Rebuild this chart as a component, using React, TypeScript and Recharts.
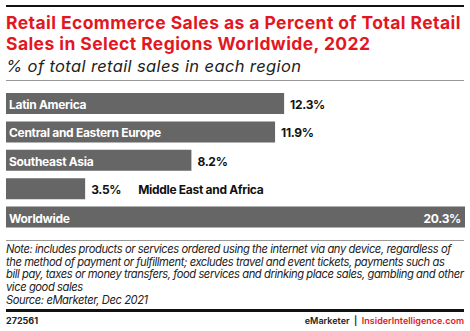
import { BarChart, Bar, XAxis, YAxis, Rectangle } from 'recharts';

const regions = ['Latin America', 'Central and Eastern Europe', 'Southeast Asia', 'Middle East and Africa', 'Worldwide'];
const shares = [12.3, 11.9, 8.2, 3.5, 20.3];

const data = regions.map((name, i) => ({ name, value: shares[i] }));
const maxValue = Math.max(...shares);

const noteLines = [
  'Note: includes products or services ordered using the internet via any device, regardless of',
  'the method of payment or fulfillment; excludes travel and event tickets, payments such as',
  'bill pay, taxes or money transfers, food services and drinking place sales, gambling and other',
  'vice good sales',
  'Source: eMarketer, Dec 2021',
];

const FONT = 'Inter, "Noto Sans", sans-serif';

// bar plus its labels: name inside (or after the value when the bar is short), value outside
function LabeledBar(props: any) {
  const { x, y, width, height, index } = props;
  const name = regions[index];
  const value = shares[index];
  const cy = y + height / 2 + 1;
  const pct = `${value.toFixed(1)}%`;
  const common = { fontFamily: FONT, fontSize: 12, fontWeight: 700, dominantBaseline: 'central' as const, letterSpacing: -0.3 };
  let labels;
  if (value === maxValue) {
    labels = (
      <>
        <text x={x + 3} y={cy} fill="#fff" {...common}>{name}</text>
        <text x={x + width - 4} y={cy} fill="#fff" textAnchor="end" {...common}>{pct}</text>
      </>
    );
  } else if (width < 120) {
    labels = (
      <>
        <text x={x + width + 6} y={cy} fill="#111" {...common}>{pct}</text>
        <text x={x + width + 53} y={cy} fill="#111" {...common}>{name}</text>
      </>
    );
  } else {
    labels = (
      <>
        <text x={x + 3} y={cy} fill="#fff" {...common}>{name}</text>
        <text x={x + width + 6} y={cy} fill="#111" {...common}>{pct}</text>
      </>
    );
  }
  return (
    <g>
      <Rectangle x={x} y={y} width={width} height={height} fill="#666666" />
      {labels}
    </g>
  );
}

export default function App() {
  return (
    <div style={{ position: 'fixed', left: 0, top: 0, width: 470, height: 331, background: '#fff' }}>
      <div style={{ position: 'absolute', left: 0, top: 89 }}>
        <BarChart width={470} height={142} data={data} layout="vertical" margin={{ top: 0, right: 5, bottom: 0, left: 6 }} barCategoryGap={3.5}>
          <XAxis type="number" domain={[0, maxValue]} hide />
          <YAxis type="category" dataKey="name" hide width={0} />
          <Bar dataKey="value" fill="#666666" barSize={21} isAnimationActive={false} shape={LabeledBar} />
        </BarChart>
      </div>

      <div style={{ position: 'absolute', left: 6, top: 5, width: 458, height: 2, background: '#111' }} />
      <div style={{ position: 'absolute', left: 6, top: 12, width: 464, fontFamily: FONT, color: '#e3171f', fontSize: 17.5, fontWeight: 700, lineHeight: '21px', letterSpacing: 0.42 }}>
        Retail Ecommerce Sales as a Percent of Total Retail Sales in Select Regions Worldwide, 2022
      </div>
      <div style={{ position: 'absolute', left: 6, top: 56, fontFamily: FONT, color: '#222', fontSize: 16.5, fontStyle: 'italic', lineHeight: '20px', letterSpacing: 0.38 }}>
        % of total retail sales in each region
      </div>
      <div style={{ position: 'absolute', left: 6, top: 80, width: 458, height: 1, background: '#999' }} />

      <div style={{ position: 'absolute', left: 6, top: 240, width: 458, height: 1, background: '#999' }} />
      <div style={{ position: 'absolute', left: 6, top: 243, fontFamily: FONT, color: '#222', fontSize: 11.2, fontStyle: 'italic', lineHeight: '12.7px', letterSpacing: -0.42, whiteSpace: 'nowrap' }}>
        {noteLines.map((line) => (
          <div key={line}>{line}</div>
        ))}
      </div>
      <div style={{ position: 'absolute', left: 6, top: 309, width: 458, height: 3, background: '#111' }} />
      <div style={{ position: 'absolute', left: 6, top: 315, fontFamily: FONT, fontSize: 9, fontWeight: 700, color: '#222' }}>272561</div>
      <div style={{ position: 'absolute', right: 6, top: 315, fontFamily: FONT, fontSize: 9, fontWeight: 600 }}>
        <span style={{ color: '#222' }}>eMarketer</span>
        <span style={{ color: '#222' }}>&nbsp;&nbsp;|&nbsp;&nbsp;</span>
        <span style={{ color: '#e3171f' }}>InsiderIntelligence.com</span>
      </div>
    </div>
  );
}
